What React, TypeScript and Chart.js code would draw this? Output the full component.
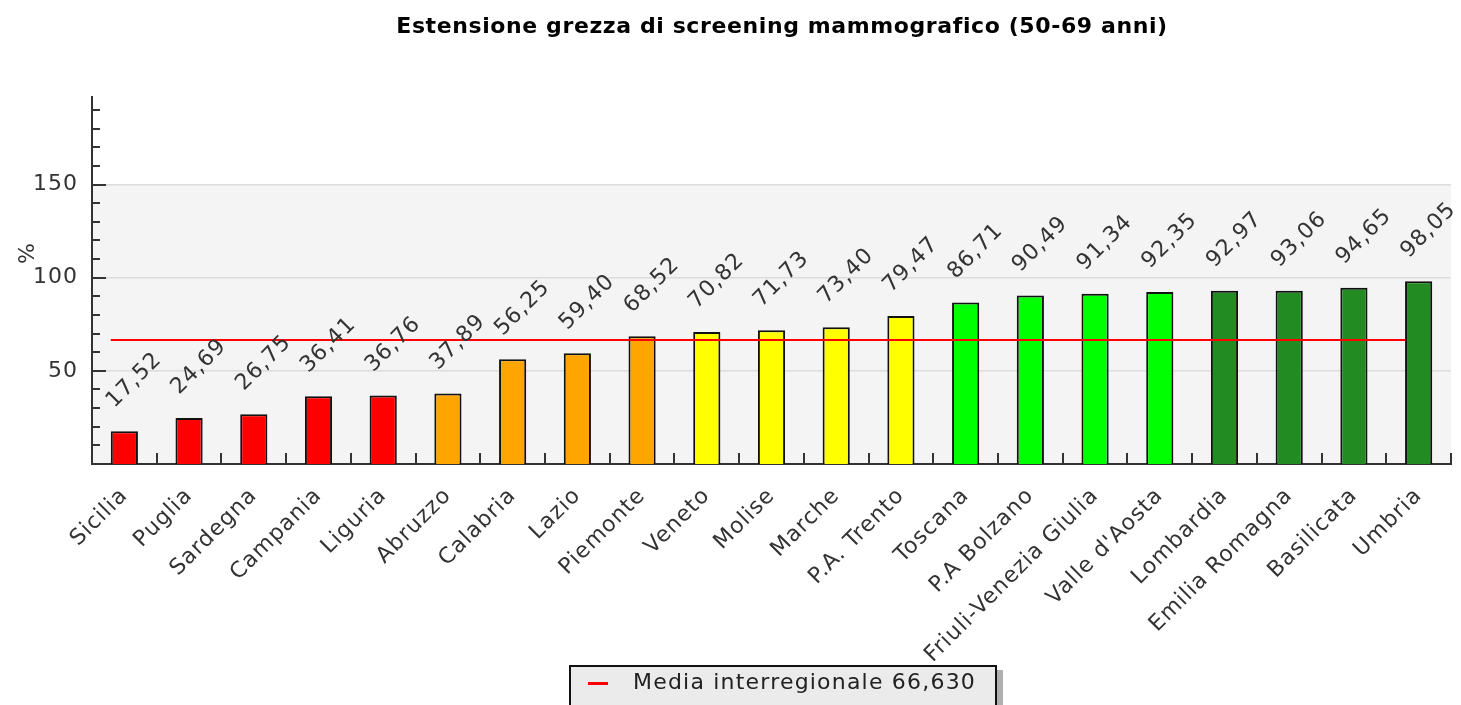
import React, { useEffect, useRef } from 'react';
import { Chart, registerables } from 'chart.js';

Chart.register(...registerables);

const TITLE = 'Estensione grezza di screening mammografico (50-69 anni)';
const Y_TITLE = '%';
const CATEGORIES = [
  'Sicilia', 'Puglia', 'Sardegna', 'Campania', 'Liguria', 'Abruzzo', 'Calabria',
  'Lazio', 'Piemonte', 'Veneto', 'Molise', 'Marche', 'P.A. Trento', 'Toscana',
  'P.A Bolzano', 'Friuli-Venezia Giulia', "Valle d'Aosta", 'Lombardia',
  'Emilia Romagna', 'Basilicata', 'Umbria',
];
const VALUES = [
  17.52, 24.69, 26.75, 36.41, 36.76, 37.89, 56.25, 59.4, 68.52, 70.82, 71.73,
  73.4, 79.47, 86.71, 90.49, 91.34, 92.35, 92.97, 93.06, 94.65, 98.05,
];
const RED = '#ff0000';
const ORANGE = '#ffa500';
const YELLOW = '#ffff00';
const LIME = '#00ff00';
const GREEN = '#228b22';
const BAR_COLORS = [
  RED, RED, RED, RED, RED,
  ORANGE, ORANGE, ORANGE, ORANGE,
  YELLOW, YELLOW, YELLOW, YELLOW,
  LIME, LIME, LIME, LIME,
  GREEN, GREEN, GREEN, GREEN,
];
const AVERAGE = 66.63;
const LEGEND_LABEL = 'Media interregionale 66,630';
const Y_MAX = 197;
const Y_STEP = 10;
const Y_MAJOR = 50;
const Y_LABELED = [50, 100, 150];
const SHADE_FROM = 150;

const BAR_PCT = 0.42;
const FONT = "'DejaVu Sans', Verdana, sans-serif";
const TEXT = '#333333';
const AXIS = '#333333';

const fmt = (v: number) => v.toFixed(2).replace('.', ',');

const spacingPlugin = {
  id: 'spacing',
  beforeDraw(chart: any) {
    chart.ctx.letterSpacing = '1px';
  },
};

const shadePlugin = {
  id: 'shade',
  beforeDraw(chart: any) {
    const { ctx, chartArea, scales } = chart;
    const yTop = scales.y.getPixelForValue(SHADE_FROM);
    ctx.save();
    ctx.fillStyle = '#f4f4f4';
    ctx.fillRect(chartArea.left, yTop, chartArea.right - chartArea.left, chartArea.bottom - yTop);
    ctx.restore();
  },
};

const titlePlugin = {
  id: 'customTitle',
  afterDraw(chart: any) {
    const { ctx } = chart;
    ctx.save();
    ctx.letterSpacing = '0.6px';
    ctx.fillStyle = '#000000';
    ctx.font = `bold 22px ${FONT}`;
    ctx.textAlign = 'center';
    ctx.textBaseline = 'middle';
    ctx.fillText(TITLE, 782, 27);
    ctx.restore();
  },
};

const averagePlugin = {
  id: 'averageLine',
  afterDatasetsDraw(chart: any) {
    const { ctx, scales } = chart;
    const meta = chart.getDatasetMeta(0);
    const first = meta.data[0];
    const last = meta.data[meta.data.length - 1];
    const y = Math.round(scales.y.getPixelForValue(AVERAGE));
    ctx.save();
    ctx.strokeStyle = RED;
    ctx.lineWidth = 2;
    ctx.beginPath();
    ctx.moveTo(first.x - first.width / 2, y);
    ctx.lineTo(last.x - last.width / 2, y);
    ctx.stroke();
    ctx.restore();
  },
};

const ticksPlugin = {
  id: 'innerTicks',
  afterDraw(chart: any) {
    const { ctx, chartArea, scales } = chart;
    ctx.save();
    ctx.strokeStyle = AXIS;
    ctx.lineWidth = 2;
    ctx.beginPath();
    for (let v = Y_STEP; v < Y_MAX; v += Y_STEP) {
      const y = Math.round(scales.y.getPixelForValue(v));
      const len = v % Y_MAJOR === 0 ? 14 : 8;
      ctx.moveTo(chartArea.left, y);
      ctx.lineTo(chartArea.left + len, y);
    }
    for (let i = 0; i < CATEGORIES.length; i++) {
      const x = Math.round(scales.x.getPixelForValue(i + 0.5));
      ctx.moveTo(x, chartArea.bottom);
      ctx.lineTo(x, chartArea.bottom - 11);
    }
    ctx.stroke();
    ctx.fillStyle = TEXT;
    ctx.font = `22px ${FONT}`;
    ctx.translate(28, 253);
    ctx.rotate(-Math.PI / 2);
    ctx.textAlign = 'center';
    ctx.textBaseline = 'middle';
    ctx.fillText(Y_TITLE, 0, 0);
    ctx.restore();
  },
};

const valueLabelsPlugin = {
  id: 'valueLabels',
  afterDatasetsDraw(chart: any) {
    const { ctx } = chart;
    const meta = chart.getDatasetMeta(0);
    ctx.save();
    ctx.fillStyle = TEXT;
    ctx.font = `22px ${FONT}`;
    ctx.textAlign = 'center';
    ctx.textBaseline = 'middle';
    meta.data.forEach((el: any, i: number) => {
      ctx.save();
      ctx.translate(el.x + 10, el.y - 51);
      ctx.rotate(-Math.PI / 4);
      ctx.fillText(fmt(VALUES[i]), 0, 0);
      ctx.restore();
    });
    ctx.restore();
  },
};

function ChartCanvas() {
  const ref = useRef<HTMLCanvasElement | null>(null);
  useEffect(() => {
    if (!ref.current) return;
    const chart = new Chart(ref.current, {
      type: 'bar',
      data: {
        labels: CATEGORIES,
        datasets: [
          {
            label: 'Estensione',
            data: VALUES,
            backgroundColor: BAR_COLORS,
            borderColor: '#111111',
            borderWidth: 2,
            barPercentage: BAR_PCT,
            categoryPercentage: 1,
          },
        ],
      },
      options: {
        responsive: false,
        animation: false,
        devicePixelRatio: 1,
        layout: { padding: { left: 0, right: 10, top: 97, bottom: 0 } },
        plugins: {
          legend: { display: false },
          tooltip: { enabled: false },
          title: { display: false },
        },
        scales: {
          x: {
            type: 'category',
            offset: true,
            grid: { display: false, drawTicks: false },
            border: { display: true, color: AXIS, width: 2 },
            ticks: {
              color: TEXT,
              font: { family: FONT, size: 22 },
              minRotation: 45,
              maxRotation: 45,
              autoSkip: false,
              padding: 19,
            },
            afterFit(scale: any) {
              scale.height = 241;
            },
          },
          y: {
            min: 0,
            max: Y_MAX,
            grid: {
              drawTicks: false,
              color: (c: any) => (Y_LABELED.includes(c.tick?.value) ? '#dcdcdc' : 'rgba(0,0,0,0)'),
              lineWidth: 1.5,
            },
            border: { display: true, color: AXIS, width: 2 },
            ticks: {
              stepSize: Y_STEP,
              color: TEXT,
              font: { family: FONT, size: 22 },
              padding: 14,
              callback: (v: any) => (Y_LABELED.includes(v) ? String(v) : null),
            },
            afterFit(scale: any) {
              scale.width = 92;
            },
          },
        },
      },
      plugins: [spacingPlugin, shadePlugin, averagePlugin, ticksPlugin, valueLabelsPlugin, titlePlugin],
    } as any);
    return () => chart.destroy();
  }, []);
  return <canvas ref={ref} width={1461} height={705} style={{ display: 'block', width: 1461, height: 705 }} />;
}

export default function App() {
  return (
    <div style={{ position: 'absolute', left: 0, top: 0, width: 1461, height: 705, overflow: 'hidden', background: '#ffffff' }}>
      <ChartCanvas />
      <div
        style={{
          position: 'absolute',
          left: 569,
          top: 665,
          width: 428,
          height: 60,
          boxSizing: 'border-box',
          border: '2px solid #111111',
          background: '#ebebeb',
          boxShadow: '6px 5px 0 #b0b0b0',
        }}
      >
        <div style={{ position: 'absolute', left: 17, top: 15, width: 20, height: 3, background: RED }} />
        <div
          style={{
            position: 'absolute',
            left: 62,
            top: 2,
            height: 30,
            lineHeight: '30px',
            font: `22px ${FONT}`,
            letterSpacing: '1.2px',
            color: '#222222',
            whiteSpace: 'nowrap',
          }}
        >
          {LEGEND_LABEL}
        </div>
      </div>
    </div>
  );
}
